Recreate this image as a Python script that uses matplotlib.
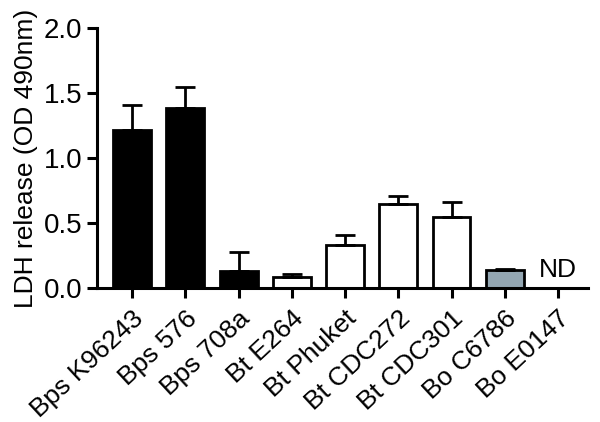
import matplotlib.pyplot as plt
import numpy as np

plt.rcParams['font.family'] = ['Liberation Sans', 'DejaVu Sans']

strains = ["Bps K96243", "Bps 576", "Bps 708a", "Bt E264", "Bt Phuket",
           "Bt CDC272", "Bt CDC301", "Bo C6786", "Bo E0147"]
ldh = [1.215, 1.387, 0.133, 0.085, 0.33, 0.646, 0.55, 0.138, 0.0]
ldh_err = [0.195, 0.163, 0.147, 0.025, 0.08, 0.064, 0.11, 0.007, 0.0]
colors = ["black", "black", "black", "white", "white", "white", "white", "#93a6b2", "white"]
not_done = [False] * 8 + [True]

fig = plt.figure(figsize=(6, 4.22), dpi=100)
ax = fig.add_axes([0.1617, 0.3175, 0.818, 0.616])

x = np.arange(len(strains))
for i in x:
    if not_done[i]:
        ax.text(i, 0.05, "ND", ha="center", va="bottom", fontsize=19)
        continue
    ax.bar(i, ldh[i], width=0.71, color=colors[i], edgecolor="black", linewidth=2, zorder=2)
    ax.errorbar(i, ldh[i], yerr=[[0], [ldh_err[i]]], fmt="none", ecolor="black",
                elinewidth=2, capsize=7.5, capthick=2, zorder=3)

ax.set_xlim(-0.66, 8.56)
ax.set_ylim(0, 2.0)
ax.set_yticks([0.0, 0.5, 1.0, 1.5, 2.0])
ax.set_yticklabels(["0.0", "0.5", "1.0", "1.5", "2.0"], fontsize=20)
ax.set_xticks(x)
ax.set_xticklabels(strains, rotation=43, ha="right", rotation_mode="anchor", fontsize=19)
ax.tick_params(axis="x", pad=6)
ax.set_ylabel("LDH release (OD 490nm)", fontsize=19, labelpad=4)

for s in ["top", "right"]:
    ax.spines[s].set_visible(False)
for s in ["left", "bottom"]:
    ax.spines[s].set_linewidth(2.2)
ax.tick_params(width=2.2, length=7, direction="out")

fig.savefig("out.png", dpi=100)
